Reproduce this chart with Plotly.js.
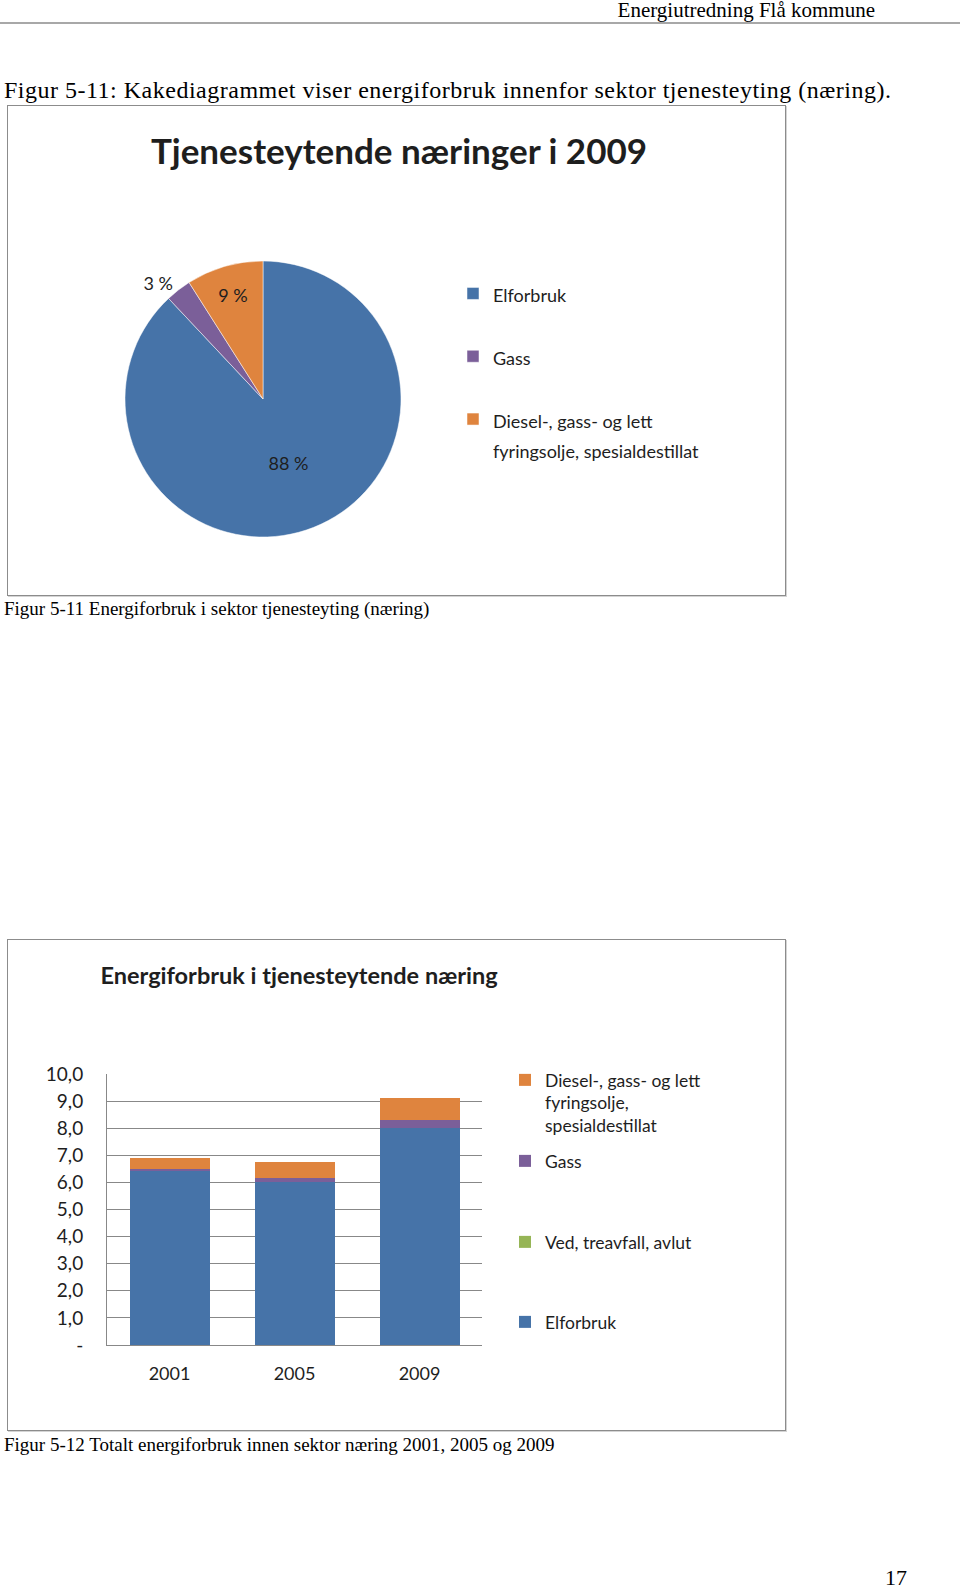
<!DOCTYPE html>
<html>
<head>
<meta charset="utf-8">
<script src="https://cdn.plot.ly/plotly-3.0.1.min.js"></script>
<style>
  body { margin: 0; background: #fff; width: 960px; height: 1589px; position: relative; overflow: hidden;
         font-family: "Liberation Serif", "Times New Roman", serif; color: #000; }
  .txt { position: absolute; white-space: nowrap; line-height: 1; }
  .frame { position: absolute; border: 1px solid #8c8c8c; box-sizing: border-box; box-shadow: 1px 1px 0 #d4d4d4; }
  .plot { position: absolute; }
</style>
</head>
<body>

<div class="txt" style="right:85px; top:0px; font-size:21px;">Energiutredning Flå kommune</div>
<div style="position:absolute; left:0; top:22px; width:960px; height:2px; background:#a8a8a8;"></div>

<div class="txt" style="left:4px; top:78px; font-size:24px; letter-spacing:0.5px;">Figur 5-11: Kakediagrammet viser energiforbruk innenfor sektor tjenesteyting (næring).</div>

<div class="frame" style="left:7px; top:105px; width:779px; height:491px;"></div>
<div id="piePlot" class="plot" style="left:7px; top:105px; width:779px; height:491px;"></div>

<div class="txt" style="left:4px; top:599px; font-size:19px;">Figur 5-11 Energiforbruk i sektor tjenesteyting (næring)</div>

<div class="frame" style="left:7px; top:939px; width:779px; height:492px;"></div>
<div id="barPlot" class="plot" style="left:7px; top:939px; width:779px; height:492px;"></div>

<div class="txt" style="left:4px; top:1435px; font-size:19px;">Figur 5-12 Totalt energiforbruk innen sektor næring 2001, 2005 og 2009</div>

<div class="txt" style="left:885px; top:1567px; font-size:22px;">17</div>

<script>
// pie: share of energy use 2009 (percent)
let pieLabels = ['Elforbruk', 'Gass', 'Diesel-, gass- og lett<br>fyringsolje, spesialdestillat'];
let pieValues = [88, 3, 9];

// stacked bars: energy use per year
let years = ['2001', '2005', '2009'];
let elforbruk = [6.45, 6.0, 8.0];
let ved = [0, 0, 0];
let gass = [0.05, 0.15, 0.3];
let diesel = [0.4, 0.62, 0.8];

let yTickVals = [0, 1, 2, 3, 4, 5, 6, 7, 8, 9, 10];
let yTickText = ['-', '1,0', '2,0', '3,0', '4,0', '5,0', '6,0', '7,0', '8,0', '9,0', '10,0'];

let blue = '#4673a8';
let purple = '#7b5f99';
let orange = '#df843e';
let green = '#96b556';
let textColor = '#1e1e1e';
let font = 'Lato, "Open Sans", sans-serif';

function makePiePlot(plotDiv) {
  let W = 779, H = 491;

  // Excel spreads the legend entries out; a blank line plus a larger base font gives the gap
  let legendText = pieLabels.map((l, i) => {
    let lines = l.split('<br>').map(s => '<span style="font-size:18px">' + s + '</span>').join('<br>');
    return i < pieLabels.length - 1 ? lines + '<br>\u00a0' : lines;
  });

  let trace = {
    type: 'pie',
    labels: legendText,
    values: pieValues,
    sort: false,
    direction: 'clockwise',
    rotation: 0,
    marker: {
      colors: [blue, purple, orange],
      line: { color: '#ffffff', width: 0.5 }
    },
    texttemplate: '%{value} %',
    textposition: ['inside', 'outside', 'inside'],
    insidetextorientation: 'horizontal',
    textfont: { family: font, size: 18, color: textColor },
    hoverinfo: 'label+percent',
    domain: {
      x: [(256 - 138) / W, (256 + 138) / W],
      y: [(H - 294 - 138) / H, (H - 294 + 138) / H]
    }
  };

  let layout = {
    width: W,
    height: H,
    margin: { l: 0, r: 0, t: 0, b: 0 },
    paper_bgcolor: 'rgba(0,0,0,0)',
    font: { family: font, color: textColor },
    title: {
      text: '<b>Tjenesteytende næringer i 2009</b>',
      font: { family: font, size: 35, color: textColor },
      xref: 'container', yref: 'container',
      x: 392 / W, y: 1 - 47 / H,
      xanchor: 'center', yanchor: 'middle'
    },
    showlegend: true,
    legend: {
      x: 446 / W, y: 1 - 167 / H,
      xanchor: 'left', yanchor: 'top',
      valign: 'top',
      font: { family: font, size: 23, color: textColor },
      bgcolor: 'rgba(0,0,0,0)'
    }
  };

  Plotly.newPlot(plotDiv, [trace], layout, { displayModeBar: false });
}

function makeBarPlot(plotDiv) {
  let W = 779, H = 492;

  let legendFont = { family: font, size: 17.5, color: textColor };
  let legendX = 498 / W;
  function legendAt(yTop) {
    return {
      xref: 'container', yref: 'container',
      x: legendX, y: 1 - yTop / H,
      xanchor: 'left', yanchor: 'top',
      valign: 'top',
      font: legendFont,
      bgcolor: 'rgba(0,0,0,0)'
    };
  }

  let traces = [
    { type: 'bar', name: 'Elforbruk', x: years, y: elforbruk, marker: { color: blue }, legend: 'legend' },
    { type: 'bar', name: 'Ved, treavfall, avlut', x: years, y: ved, marker: { color: green }, legend: 'legend2' },
    { type: 'bar', name: 'Gass', x: years, y: gass, marker: { color: purple }, legend: 'legend3' },
    { type: 'bar', name: 'Diesel-, gass- og lett<br>fyringsolje,<br>spesialdestillat', x: years, y: diesel,
      marker: { color: orange }, legend: 'legend4' }
  ];

  let gridColor = '#888888';

  let layout = {
    width: W,
    height: H,
    margin: { l: 100, r: 304, t: 135, b: 86 },
    paper_bgcolor: 'rgba(0,0,0,0)',
    plot_bgcolor: 'rgba(0,0,0,0)',
    font: { family: font, color: textColor },
    barmode: 'stack',
    bargap: 0.36,
    title: {
      text: '<b>Energiforbruk i tjenesteytende næring</b>',
      font: { family: font, size: 23.5, color: textColor },
      xref: 'container', yref: 'container',
      x: 292 / W, y: 1 - 37 / H,
      xanchor: 'center', yanchor: 'middle'
    },
    xaxis: {
      type: 'category',
      showline: true,
      linecolor: gridColor,
      linewidth: 1,
      ticks: '',
      ticklabelstandoff: 12,
      tickfont: { family: font, size: 18, color: textColor }
    },
    yaxis: {
      range: [0, 10],
      tickvals: yTickVals,
      ticktext: yTickText,
      showgrid: true,
      gridcolor: gridColor,
      gridwidth: 1,
      zeroline: false,
      showline: true,
      linecolor: gridColor,
      linewidth: 1,
      ticks: '',
      ticklabelstandoff: 19,
      tickfont: { family: font, size: 19, color: textColor }
    },
    showlegend: true,
    legend: legendAt(365),
    legend2: legendAt(285),
    legend3: legendAt(204),
    legend4: legendAt(123)
  };

  Plotly.newPlot(plotDiv, traces, layout, { displayModeBar: false });
}

makePiePlot(document.getElementById('piePlot'));
makeBarPlot(document.getElementById('barPlot'));
</script>
</body>
</html>
